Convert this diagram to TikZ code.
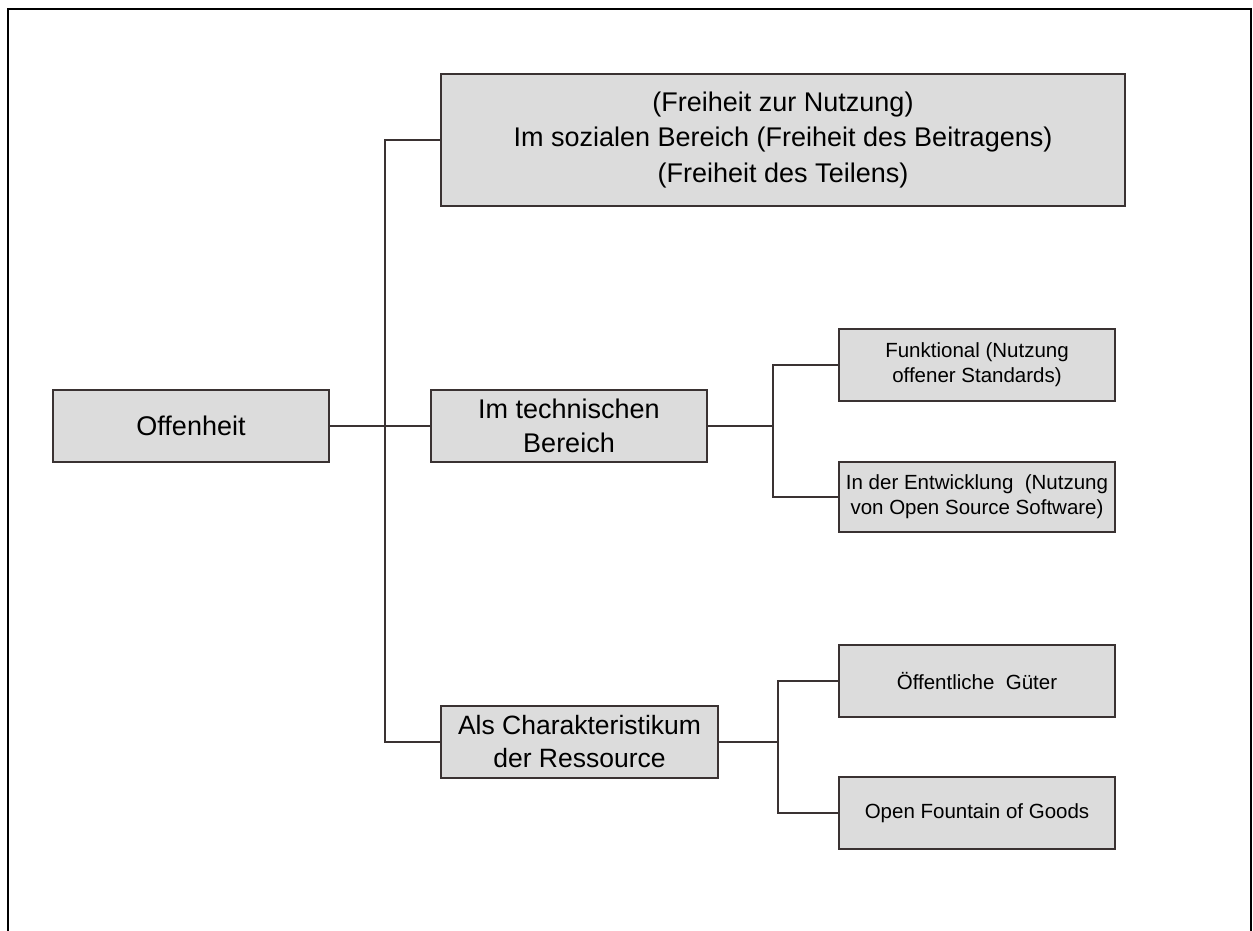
\documentclass[tikz,border=0pt]{standalone}
\usepackage{fontspec}
\setmainfont{Liberation Sans}
\definecolor{boxfill}{HTML}{DCDCDC}
\definecolor{edge}{HTML}{3A3232}
\begin{document}
\begin{tikzpicture}[x=1pt,y=-1pt,
  box/.style={draw=edge,fill=boxfill,line width=1.8pt,rectangle,inner sep=0pt,align=center,text=black},
  big/.style={box,font=\fontsize{27}{34}\selectfont},
  small/.style={box,font=\fontsize{20.5}{25}\selectfont},
  conn/.style={draw=edge,line width=1.8pt}]
\useasboundingbox (0,0) rectangle (1253,931);
\draw[line width=2.2pt,black] (8,931) -- (8,9) -- (1251,9) -- (1251,931);
\node[big,minimum width=684pt,minimum height=132pt,font=\fontsize{27}{35.5}\selectfont] (social) at (783,140) {(Freiheit zur Nutzung)\\Im sozialen Bereich (Freiheit des Beitragens)\\(Freiheit des Teilens)};
\node[big,minimum width=276pt,minimum height=72pt] (off) at (191,426) {Offenheit};
\node[big,minimum width=276pt,minimum height=72pt] (tech) at (569,426) {Im technischen\\Bereich};
\node[small,minimum width=276pt,minimum height=72pt] (funk) at (977,365) {Funktional (Nutzung\\offener Standards)};
\node[small,minimum width=276pt,minimum height=70pt] (entw) at (977,497) {In der Entwicklung\ \ (Nutzung\\von Open Source Software)};
\node[big,minimum width=277pt,minimum height=72pt,font=\fontsize{26.5}{33}\selectfont] (als) at (579.5,742) {Als Charakteristikum\\der Ressource};
\node[small,minimum width=276pt,minimum height=72pt] (oeff) at (977,681) {Öffentliche\ \ Güter};
\node[small,minimum width=276pt,minimum height=72pt] (open) at (977,813) {Open Fountain of Goods};
\coordinate (t1) at (385,426);
\coordinate (b2) at (773,426);
\coordinate (b3) at (778,742);
\draw[conn] (off.east) -- (tech.west);
\draw[conn] (social.west) -| (t1) |- (als.west);
\draw[conn] (tech.east) -- (b2);
\draw[conn] (funk.west) -| (b2) |- (entw.west);
\draw[conn] (als.east) -- (b3);
\draw[conn] (oeff.west) -| (b3) |- (open.west);
\end{tikzpicture}
\end{document}
